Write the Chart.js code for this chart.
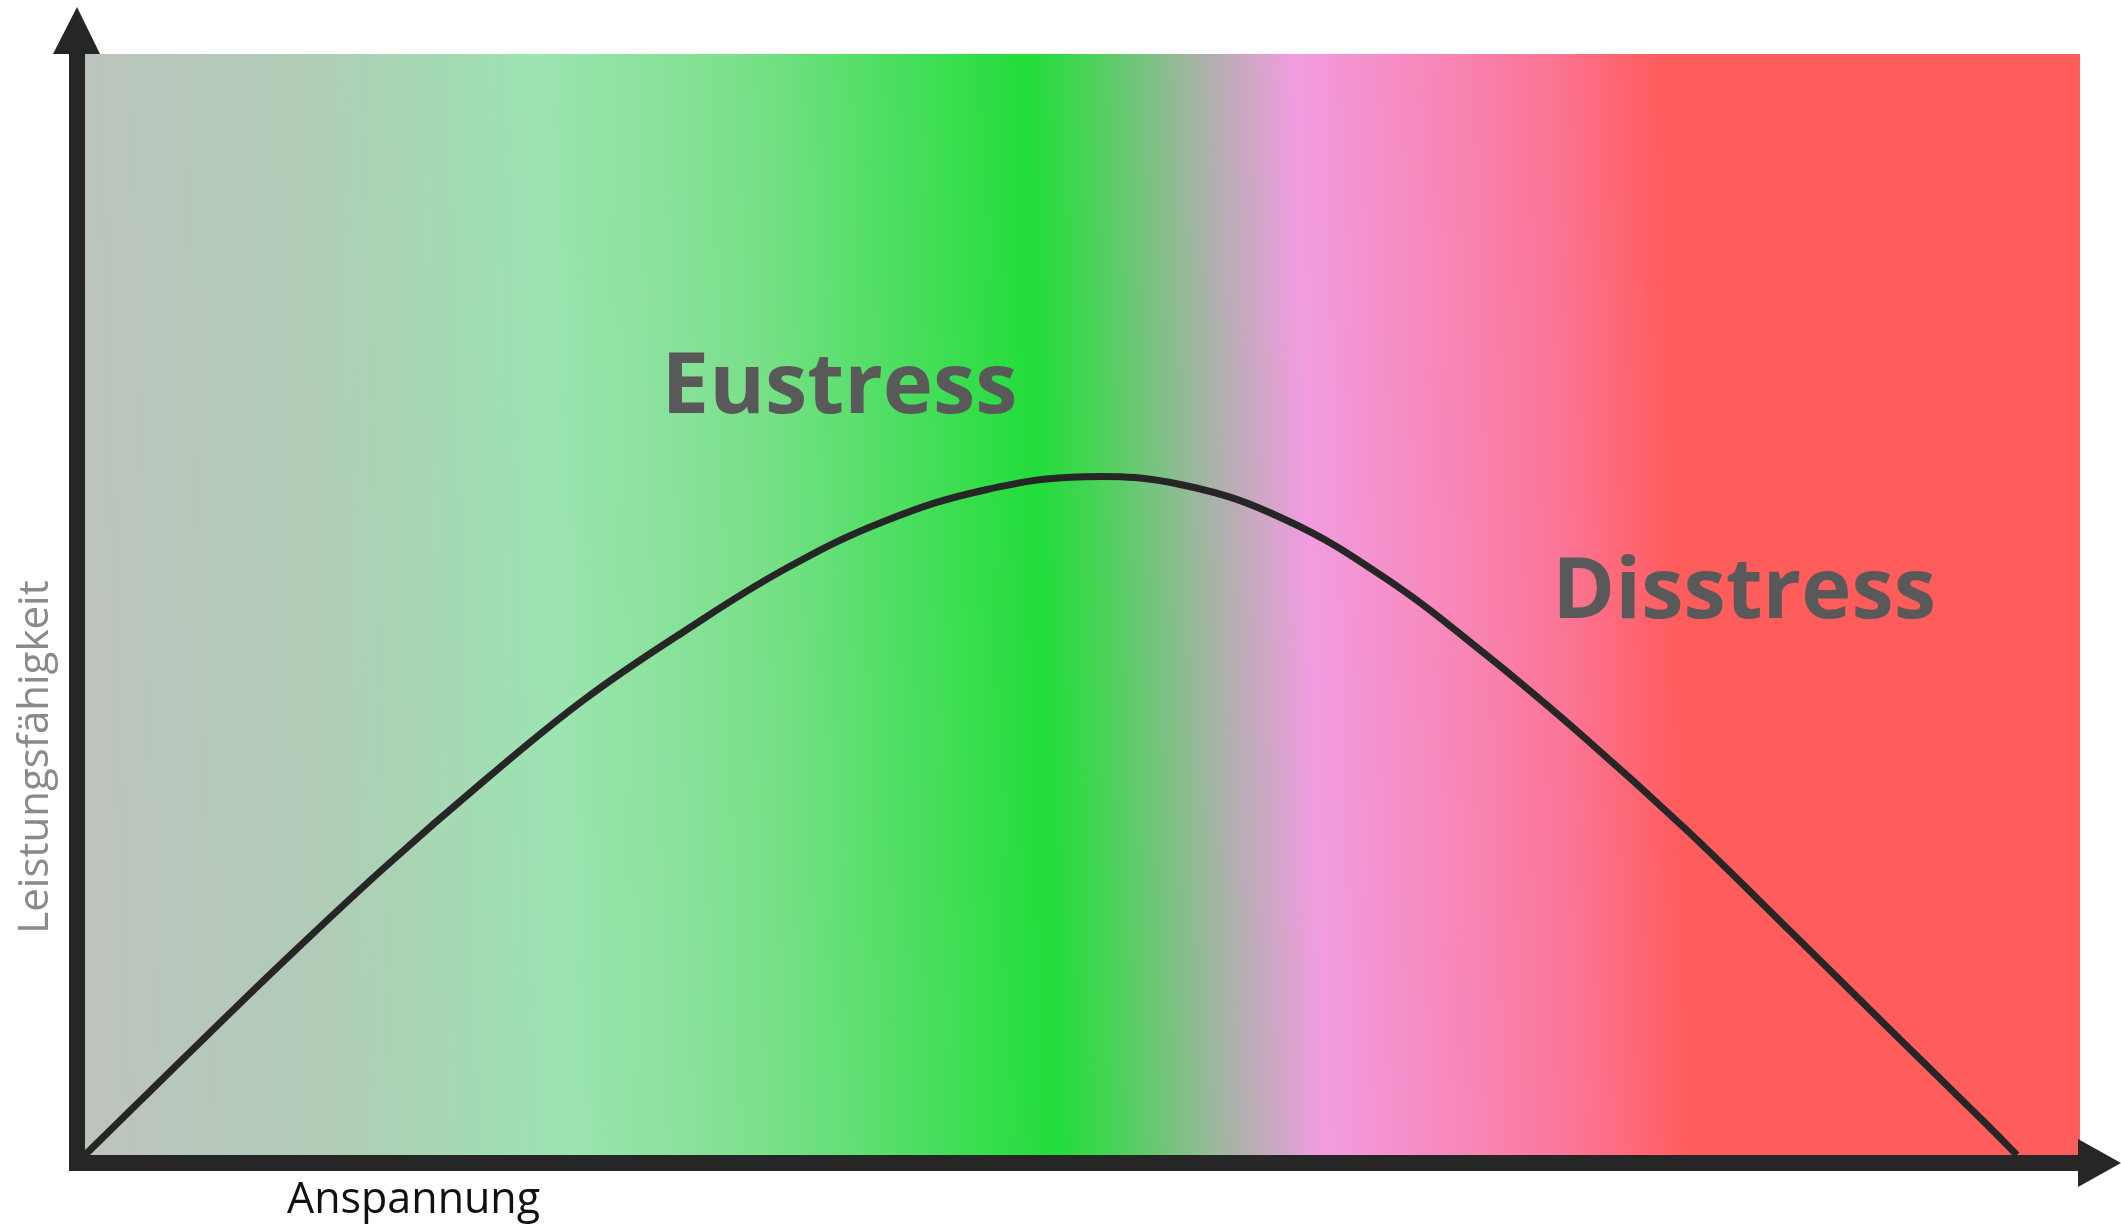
<!DOCTYPE html>
<html>
<head>
<meta charset="utf-8">
<title>Eustress / Disstress</title>
<script src="https://cdn.jsdelivr.net/npm/chart.js@4.4.1/dist/chart.umd.min.js"></script>
<style>
  html, body { margin: 0; padding: 0; background: #fff; }
  #wrap { width: 2121px; height: 1226px; }
</style>
</head>
<body>
<div id="wrap"><canvas id="stress-chart" width="2121" height="1226"></canvas></div>
<script>
// Curve (x: Anspannung 0..100, y: Leistungsfähigkeit 0..100)
const tensionX = [0, 5.01, 10.03, 15.04, 20.05, 25.06, 30.08, 35.09, 40.10, 45.11, 50.13, 55.14, 60.15, 65.16, 70.18, 75.19, 80.20, 85.21, 90.23, 95.24, 96.84];
const performanceY = [0, 8.90, 17.71, 26.16, 34.06, 41.42, 47.62, 53.22, 57.58, 60.40, 61.61, 60.81, 57.72, 52.41, 45.50, 37.87, 29.65, 20.80, 11.84, 2.93, 0];

// Zone labels, anchored in data units (left edge / baseline)
const zoneLabels = ['Eustress', 'Disstress'];
const zoneLabelX = [28.9, 73.55];
const zoneLabelY = [67.4, 48.8];

const xTitle = 'Anspannung';
const yTitle = 'Leistungsfähigkeit';

// Background band colours (fraction of plot width, colour)
const bandStops = [
  [0.000, '#bcc4bd'],
  [0.109, '#b0ccb7'],
  [0.228, '#9ce4b1'],
  [0.330, '#7ae08a'],
  [0.471, '#22dd3a'],
  [0.499, '#45d455'],
  [0.563, '#b0b0ae'],
  [0.606, '#f29ce1'],
  [0.730, '#fb7698'],
  [0.790, '#ff5c5c'],
  [1.000, '#ff5c5c']
];

const AXIS_COLOR = '#262626';

// paints the gradient behind the curve
const bandPlugin = {
  id: 'bands',
  beforeDatasetsDraw(chart) {
    const { ctx, chartArea: a } = chart;
    const w = a.right - a.left;
    const k = 0.028; // bands lean slightly to the right towards the bottom
    const g = ctx.createLinearGradient(a.left, a.top, a.left + w, a.top - k * w);
    bandStops.forEach(s => g.addColorStop(s[0], s[1]));
    ctx.save();
    ctx.fillStyle = g;
    ctx.fillRect(a.left, a.top, w, a.bottom - a.top);
    ctx.restore();
  }
};

// thick axes with arrow heads, plus the texts
const axesPlugin = {
  id: 'arrowAxes',
  afterDatasetsDraw(chart) {
    const { ctx, chartArea: a, scales } = chart;
    ctx.save();
    ctx.fillStyle = AXIS_COLOR;
    // y axis
    ctx.fillRect(a.left - 16, a.top, 16, a.bottom - a.top + 16);
    ctx.beginPath();
    ctx.moveTo(a.left - 8, 7);
    ctx.lineTo(a.left - 32, a.top);
    ctx.lineTo(a.left + 15, a.top);
    ctx.closePath();
    ctx.fill();
    // x axis
    ctx.fillRect(a.left - 16, a.bottom, a.right - a.left + 14, 16);
    ctx.beginPath();
    ctx.moveTo(a.right - 2, a.bottom - 16);
    ctx.lineTo(2121, a.bottom + 8);
    ctx.lineTo(a.right - 2, a.bottom + 32);
    ctx.closePath();
    ctx.fill();

    // zone labels
    ctx.fillStyle = '#595959';
    ctx.font = 'bold 85px "Open Sans"';
    ctx.textAlign = 'left';
    ctx.textBaseline = 'alphabetic';
    zoneLabels.forEach((t, i) => {
      ctx.fillText(t, scales.x.getPixelForValue(zoneLabelX[i]), scales.y.getPixelForValue(zoneLabelY[i]));
    });

    // axis titles
    ctx.fillStyle = '#111';
    ctx.font = '43px "Open Sans"';
    ctx.fillText(xTitle, a.left + 202, a.bottom + 58);

    ctx.fillStyle = '#8a8a8a';
    ctx.font = '42px "Open Sans"';
    ctx.translate(a.left - 37, a.top + 703);
    ctx.rotate(-Math.PI / 2);
    ctx.textAlign = 'center';
    ctx.fillText(yTitle, 0, 0);
    ctx.restore();
  }
};

const ctx = document.getElementById('stress-chart').getContext('2d');
const chart = new Chart(ctx, {
  type: 'line',
  data: {
    datasets: [{
      label: yTitle,
      data: tensionX.map((x, i) => ({ x: x, y: performanceY[i] })),
      borderColor: '#262626',
      borderWidth: 7,
      pointRadius: 0,
      fill: false,
      tension: 0.4
    }]
  },
  options: {
    responsive: false,
    animation: false,
    devicePixelRatio: 1,
    layout: { padding: { left: 85, right: 41, top: 54, bottom: 71 } },
    scales: {
      x: { type: 'linear', min: 0, max: 100, display: false },
      y: { min: 0, max: 100, display: false }
    },
    plugins: {
      legend: { display: false },
      tooltip: { enabled: false }
    }
  },
  plugins: [bandPlugin, axesPlugin]
});
</script>
</body>
</html>
